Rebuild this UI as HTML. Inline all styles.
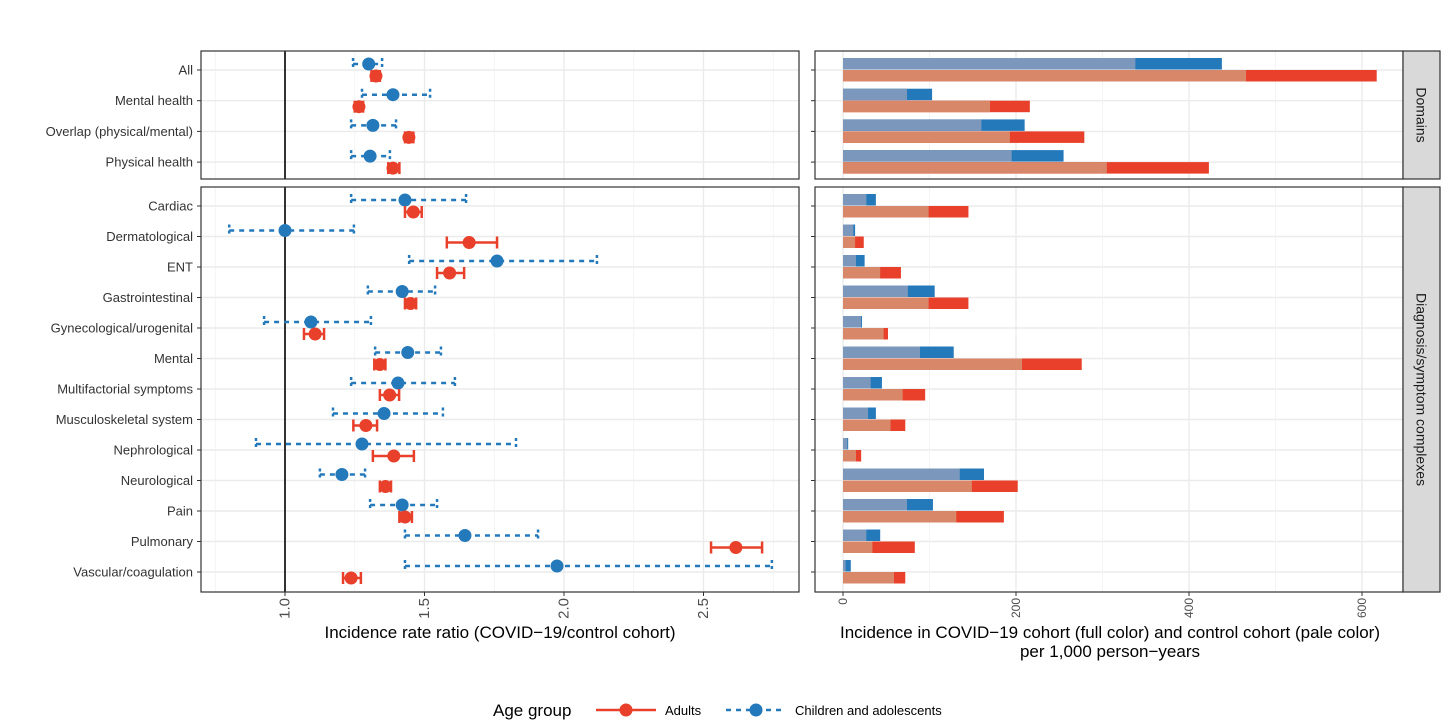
<!DOCTYPE html>
<html><head><meta charset="utf-8"><style>
body{margin:0;background:#fff;}
svg{display:block;font-family:"Liberation Sans",Arial,sans-serif;}
</style></head><body>
<svg id="c" width="1456" height="724" xmlns="http://www.w3.org/2000/svg"></svg>
<script>
const domainCats=["All","Mental health","Overlap (physical/mental)","Physical health"];
const diagCats=["Cardiac","Dermatological","ENT","Gastrointestinal","Gynecological/urogenital","Mental","Multifactorial symptoms","Musculoskeletal system","Nephrological","Neurological","Pain","Pulmonary","Vascular/coagulation"];
// IRR point estimates and CIs
const domChildIRR=[1.30,1.387,1.315,1.305];
const domChildLo=[1.244,1.276,1.237,1.237];
const domChildHi=[1.348,1.52,1.398,1.376];
const domAdultIRR=[1.326,1.265,1.444,1.387];
const domAdultLo=[1.31,1.25,1.43,1.37];
const domAdultHi=[1.34,1.28,1.46,1.41];
const diagChildIRR=[1.43,1.0,1.76,1.42,1.093,1.44,1.405,1.355,1.276,1.204,1.42,1.645,1.975];
const diagChildLo=[1.237,0.80,1.445,1.297,0.925,1.323,1.237,1.172,0.896,1.125,1.305,1.43,1.43];
const diagChildHi=[1.649,1.247,2.118,1.538,1.308,1.559,1.609,1.566,1.828,1.287,1.545,1.907,2.745];
const diagAdultIRR=[1.46,1.66,1.59,1.45,1.108,1.34,1.375,1.29,1.39,1.36,1.43,2.616,1.237];
const diagAdultLo=[1.43,1.58,1.545,1.43,1.068,1.32,1.34,1.245,1.315,1.34,1.41,2.527,1.208];
const diagAdultHi=[1.49,1.76,1.642,1.47,1.14,1.36,1.409,1.33,1.462,1.38,1.455,2.71,1.272];
// incidence per 1000 PY
const domChildCtrl=[338,74,160,195];
const domChildCov=[438,103,210,255];
const domAdultCtrl=[466,170,193,305];
const domAdultCov=[617,216,279,423];
const diagChildCtrl=[27,12,15,75,21,89,32,29,5,135,74,27,3];
const diagChildCov=[38,14,25,106,22,128,45,38,6,163,104,43,9];
const diagAdultCtrl=[99,14,43,99,47,207,69,55,15,149,131,34,59];
const diagAdultCov=[145,24,67,145,52,276,95,72,21,202,186,83,72];
const irrTicks=[1.0,1.5,2.0,2.5];
const incTicks=[0,200,400,600];

const svg=document.getElementById('c');const NS="http://www.w3.org/2000/svg";
function el(t,a,p){const e=document.createElementNS(NS,t);for(const k in a)e.setAttribute(k,a[k]);(p||svg).appendChild(e);return e;}
const RED="#e8402a",BLUE="#2479bb",PRED="#d98769",PBLUE="#7b98bc";
const xI=v=>285+(v-1)*279;
const xN=v=>843+v*0.865;
const L0=201,L1=799,R0=815,R1=1403;
const panels=[{cats:domainCats,y0:51,y1:179,yf:i=>70+i*30.7,strip:"Domains",
  ci:domChildIRR,cl:domChildLo,ch:domChildHi,ai:domAdultIRR,al:domAdultLo,ah:domAdultHi,
  bc:domChildCtrl,bv:domChildCov,rc:domAdultCtrl,rv:domAdultCov},
 {cats:diagCats,y0:187,y1:592,yf:i=>206+i*30.5,strip:"Diagnosis/symptom complexes",
  ci:diagChildIRR,cl:diagChildLo,ch:diagChildHi,ai:diagAdultIRR,al:diagAdultLo,ah:diagAdultHi,
  bc:diagChildCtrl,bv:diagChildCov,rc:diagAdultCtrl,rv:diagAdultCov}];
panels.forEach((P,pi)=>{
  const g=el('g',{});
  [0.75,1.25,1.75,2.25,2.75].forEach(v=>el('line',{x1:xI(v),x2:xI(v),y1:P.y0,y2:P.y1,stroke:'#f2f2f2','stroke-width':0.8},g));
  irrTicks.forEach(v=>el('line',{x1:xI(v),x2:xI(v),y1:P.y0,y2:P.y1,stroke:'#ebebeb','stroke-width':1.4},g));
  P.cats.forEach((c,i)=>{const y=P.yf(i);el('line',{x1:L0,x2:L1,y1:y,y2:y,stroke:'#ebebeb','stroke-width':1.4},g);
    el('line',{x1:R0,x2:R1,y1:y,y2:y,stroke:'#ebebeb','stroke-width':1.4},g);
    const t=el('text',{x:193,y:y+4.5,'text-anchor':'end','font-size':13,fill:'#333'},g);t.textContent=c;
    
    el('line',{x1:197,x2:201,y1:y,y2:y,stroke:'#333'},g);el('line',{x1:811,x2:815,y1:y,y2:y,stroke:'#333'},g);});
  [100,300,500].forEach(v=>el('line',{x1:xN(v),x2:xN(v),y1:P.y0,y2:P.y1,stroke:'#f2f2f2','stroke-width':0.8},g));
  incTicks.forEach(v=>el('line',{x1:xN(v),x2:xN(v),y1:P.y0,y2:P.y1,stroke:'#ebebeb','stroke-width':1.4},g));
  el('line',{x1:285,x2:285,y1:P.y0,y2:P.y1,stroke:'#000','stroke-width':1.6},g);
  P.cats.forEach((c,i)=>{const y=P.yf(i);
    const yb=y-6,yr=y+6;
    const cb=el('g',{},g);
    el('line',{x1:xI(P.cl[i]),x2:xI(P.ch[i]),y1:yb,y2:yb,stroke:BLUE,'stroke-width':2.5,'stroke-dasharray':'5,5'},cb);
    [P.cl[i],P.ch[i]].forEach(v=>el('line',{x1:xI(v),x2:xI(v),y1:yb-6,y2:yb+6,stroke:BLUE,'stroke-width':2.5,'stroke-dasharray':'3,3'},cb));
    el('circle',{cx:xI(P.ci[i]),cy:yb,r:6.5,fill:BLUE},cb);
    const ca=el('g',{},g);
    el('line',{x1:xI(P.al[i]),x2:xI(P.ah[i]),y1:yr,y2:yr,stroke:RED,'stroke-width':2.5},ca);
    [P.al[i],P.ah[i]].forEach(v=>el('line',{x1:xI(v),x2:xI(v),y1:yr-6,y2:yr+6,stroke:RED,'stroke-width':2.5},ca));
    el('circle',{cx:xI(P.ai[i]),cy:yr,r:6.5,fill:RED},ca);
    const bb=el('g',{},g);
    el('rect',{x:xN(0),y:y-12,width:xN(P.bv[i])-xN(0),height:11.5,fill:BLUE},bb);
    el('rect',{x:xN(0),y:y-12,width:xN(P.bc[i])-xN(0),height:11.5,fill:PBLUE},bb);
    el('rect',{x:xN(0),y:y,width:xN(P.rv[i])-xN(0),height:11.5,fill:RED},bb);
    el('rect',{x:xN(0),y:y,width:xN(P.rc[i])-xN(0),height:11.5,fill:PRED},bb);
  });
  el('rect',{x:L0,y:P.y0,width:L1-L0,height:P.y1-P.y0,fill:'none',stroke:'#333','stroke-width':1.2},g);
  el('rect',{x:R0,y:P.y0,width:R1-R0,height:P.y1-P.y0,fill:'none',stroke:'#333','stroke-width':1.2},g);
  const s=el('rect',{x:R1,y:P.y0,width:37,height:P.y1-P.y0,fill:'#d9d9d9',stroke:'#333','stroke-width':1.2});
  
  const cy=(P.y0+P.y1)/2;
  const st=el('text',{x:1421.5,y:cy,'text-anchor':'middle','font-size':14,fill:'#1a1a1a',transform:`rotate(90 1421.5 ${cy})`,'dominant-baseline':'central'});st.textContent=P.strip;
  
});
irrTicks.forEach(v=>{el('line',{x1:xI(v),x2:xI(v),y1:592,y2:596,stroke:'#333'});
  const t=el('text',{x:0,y:0,'text-anchor':'end','font-size':15,fill:'#4d4d4d','dominant-baseline':'central',transform:`translate(${xI(v)},598) rotate(-90)`});t.textContent=v.toFixed(1);
  });
incTicks.forEach(v=>{el('line',{x1:xN(v),x2:xN(v),y1:592,y2:596,stroke:'#333'});
  const t=el('text',{x:0,y:0,'text-anchor':'end','font-size':12,fill:'#4d4d4d','dominant-baseline':'central',transform:`translate(${xN(v)},598) rotate(-90)`});t.textContent=v;
  });
</script>
<svg style="position:absolute;left:0;top:0" width="1456" height="724">
<text x="500" y="638" text-anchor="middle" font-size="17" fill="#000">Incidence rate ratio (COVID−19/control cohort)</text>
<text x="1110" y="638" text-anchor="middle" font-size="17" fill="#000">Incidence in COVID−19 cohort (full color) and control cohort (pale color)</text>
<text x="1110" y="657" text-anchor="middle" font-size="17" fill="#000">per 1,000 person−years</text>
<g>
<text x="493" y="716" font-size="17" fill="#000">Age group</text>
<g><line x1="596" y1="710" x2="656" y2="710" stroke="#e8402a" stroke-width="2.5"/><circle cx="626" cy="710" r="6.5" fill="#e8402a"/>
<text x="665" y="715" font-size="13" fill="#000">Adults</text></g>
<g><line x1="726" y1="710" x2="786" y2="710" stroke="#2479bb" stroke-width="2.5" stroke-dasharray="5,5"/><circle cx="756" cy="710" r="6.5" fill="#2479bb"/>
<text x="795" y="715" font-size="13" fill="#000">Children and adolescents</text></g>
</g></svg>
</body></html>
